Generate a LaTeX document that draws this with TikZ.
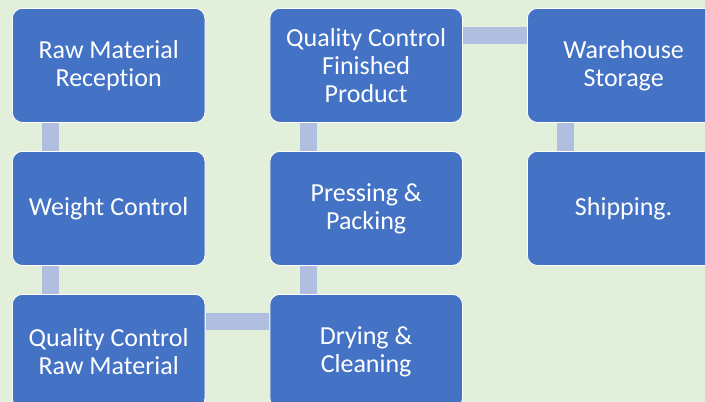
\documentclass[tikz,border=0pt]{standalone}
\usepackage{fontspec}
\setmainfont[Ligatures=NoCommon]{Carlito}
\usetikzlibrary{positioning}
\definecolor{bg}{RGB}{226,239,218}
\definecolor{boxblue}{RGB}{68,114,196}
\definecolor{barblue}{RGB}{176,190,224}

\begin{document}
\begin{tikzpicture}[node distance=28.2pt and 64.2pt, minimum height=114pt, minimum width=192.5pt,
        stage/.style={draw=white, line width=0.8pt, fill=boxblue, rounded corners=10pt, text=white, align=center, font=\fontsize{26}{28}\selectfont},
        link/.style={barblue, line width=17pt, shorten <=0.5pt, shorten >=0.5pt}]
        \fill[bg] (0,0) rectangle (705pt,-402pt);
        \useasboundingbox (0,0) rectangle (705pt,-402pt);

        \node[stage, anchor=north west] (rr) at (12pt,-8pt) {Raw Material\\Reception};
        \node[stage, below=of rr] (wc) {Weight Control};
        \node[stage, below=of wc] (qr) {Quality Control\\Raw Material};
        \node[stage, right=of qr] (dc) {Drying \&\\Cleaning};
        \node[stage, above=of dc] (pp) {Pressing \&\\Packing};
        \node[stage, above=of pp] (qf) {Quality Control\\Finished\\Product};
        \node[stage, right=of qf] (ws) {Warehouse\\Storage};
        \node[stage, below=of ws] (sh) {Shipping.};

        \draw[link] ([xshift=38.5pt]rr.south west) -- ([xshift=38.5pt]wc.north west);
        \draw[link] ([xshift=38.5pt]wc.south west) -- ([xshift=38.5pt]qr.north west);
        \draw[link] ([yshift=-27.5pt]qr.north east) -- ([yshift=-27.5pt]dc.north west);
        \draw[link] ([xshift=38.5pt]dc.north west) -- ([xshift=38.5pt]pp.south west);
        \draw[link] ([xshift=38.5pt]pp.north west) -- ([xshift=38.5pt]qf.south west);
        \draw[link] ([yshift=-27.5pt]qf.north east) -- ([yshift=-27.5pt]ws.north west);
        \draw[link] ([xshift=38.5pt]ws.south west) -- ([xshift=38.5pt]sh.north west);
\end{tikzpicture}
\end{document}
